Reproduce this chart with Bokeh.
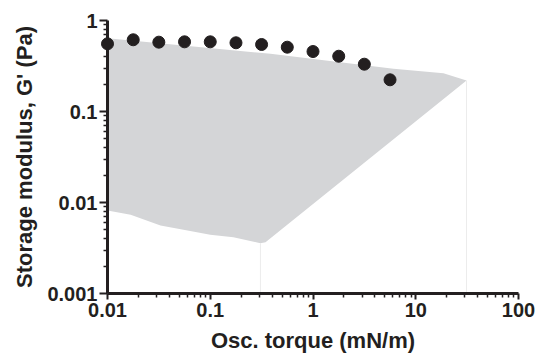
from bokeh.plotting import figure
from bokeh.models import Range1d, FixedTicker, CustomJSTickFormatter
from bokeh.embed import file_html
from bokeh.resources import INLINE

torque = [0.01, 0.0178, 0.0316, 0.0562, 0.1, 0.178, 0.316, 0.562, 1.0, 1.78, 3.16, 5.62]
g_prime = [0.554, 0.614, 0.578, 0.583, 0.583, 0.569, 0.545, 0.509, 0.456, 0.405, 0.331, 0.223]

# Shaded band (upper edge left->right, lower edge left->right)
band_upper_x = [0.01, 0.386, 6.07, 18.6, 31.2]
band_upper_y = [0.639, 0.431, 0.295, 0.264, 0.219]
band_lower_x = [0.01, 0.0168, 0.0328, 0.0601, 0.1, 0.168, 0.308, 0.345]
band_lower_y = [0.00817, 0.00732, 0.00559, 0.00492, 0.00442, 0.00416, 0.00357, 0.00366]

x_major = [0.01, 0.1, 1, 10, 100]
y_major = [0.001, 0.01, 0.1, 1]
x_minor = [m * 10.0 ** e for e in range(-2, 2) for m in range(2, 10)]
y_minor = [m * 10.0 ** e for e in range(-3, 0) for m in range(2, 10)]

FONT = "Liberation Sans"
INK = "#231f20"

p = figure(width=539, height=358, x_axis_type="log", y_axis_type="log",
           x_range=Range1d(0.01, 100), y_range=Range1d(0.001, 1),
           toolbar_location=None, output_backend="svg",
           min_border_left=107, min_border_right=21, min_border_top=20, min_border_bottom=65)
p.xgrid.visible = False
p.ygrid.visible = False
p.outline_line_color = None
p.background_fill_color = "white"
p.border_fill_color = "white"

poly_x = band_upper_x + band_lower_x[::-1]
poly_y = band_upper_y + band_lower_y[::-1]
p.patch(poly_x, poly_y, fill_color="#d4d5d7", line_color=None)

# faint edge artifacts of the band
p.segment(x0=[band_lower_x[-2], band_upper_x[-1]], y0=[band_lower_y[-2], band_upper_y[-1]],
          x1=[band_lower_x[-2], band_upper_x[-1]], y1=[0.001, 0.001],
          line_color="#ececec", line_width=1)

p.scatter(torque, g_prime, size=12, fill_color=INK, line_color=INK, marker="circle", level="overlay")

fmt = CustomJSTickFormatter(code="return tick.toString();")
for ax, maj, mnr in ((p.xaxis[0], x_major, x_minor), (p.yaxis[0], y_major, y_minor)):
    ax.ticker = FixedTicker(ticks=maj, minor_ticks=mnr)
    ax.formatter = fmt
    ax.axis_line_width = 3
    ax.axis_line_color = INK
    ax.major_tick_line_color = INK
    ax.minor_tick_line_color = INK
    ax.major_tick_line_width = 2
    ax.minor_tick_line_width = 1.5
    ax.major_tick_in = 0
    ax.minor_tick_in = 0
    ax.major_label_text_font = FONT
    ax.major_label_text_font_style = "bold"
    ax.major_label_text_font_size = "20px"
    ax.major_label_text_color = INK
    ax.axis_label_text_font = FONT
    ax.axis_label_text_font_style = "bold"
    ax.axis_label_text_font_size = "22px"
    ax.axis_label_text_color = INK

p.xaxis[0].major_tick_out = 6
p.xaxis[0].minor_tick_out = 4
p.xaxis[0].major_label_standoff = 3
p.xaxis[0].axis_label = "Osc. torque (mN/m)"
p.xaxis[0].axis_label_standoff = 8

p.yaxis[0].major_tick_out = 8
p.yaxis[0].minor_tick_out = 4
p.yaxis[0].major_label_standoff = 2
p.yaxis[0].axis_label = "Storage modulus, G' (Pa)"
p.yaxis[0].axis_label_standoff = 7

open("out.html", "w").write(file_html(p, INLINE))
